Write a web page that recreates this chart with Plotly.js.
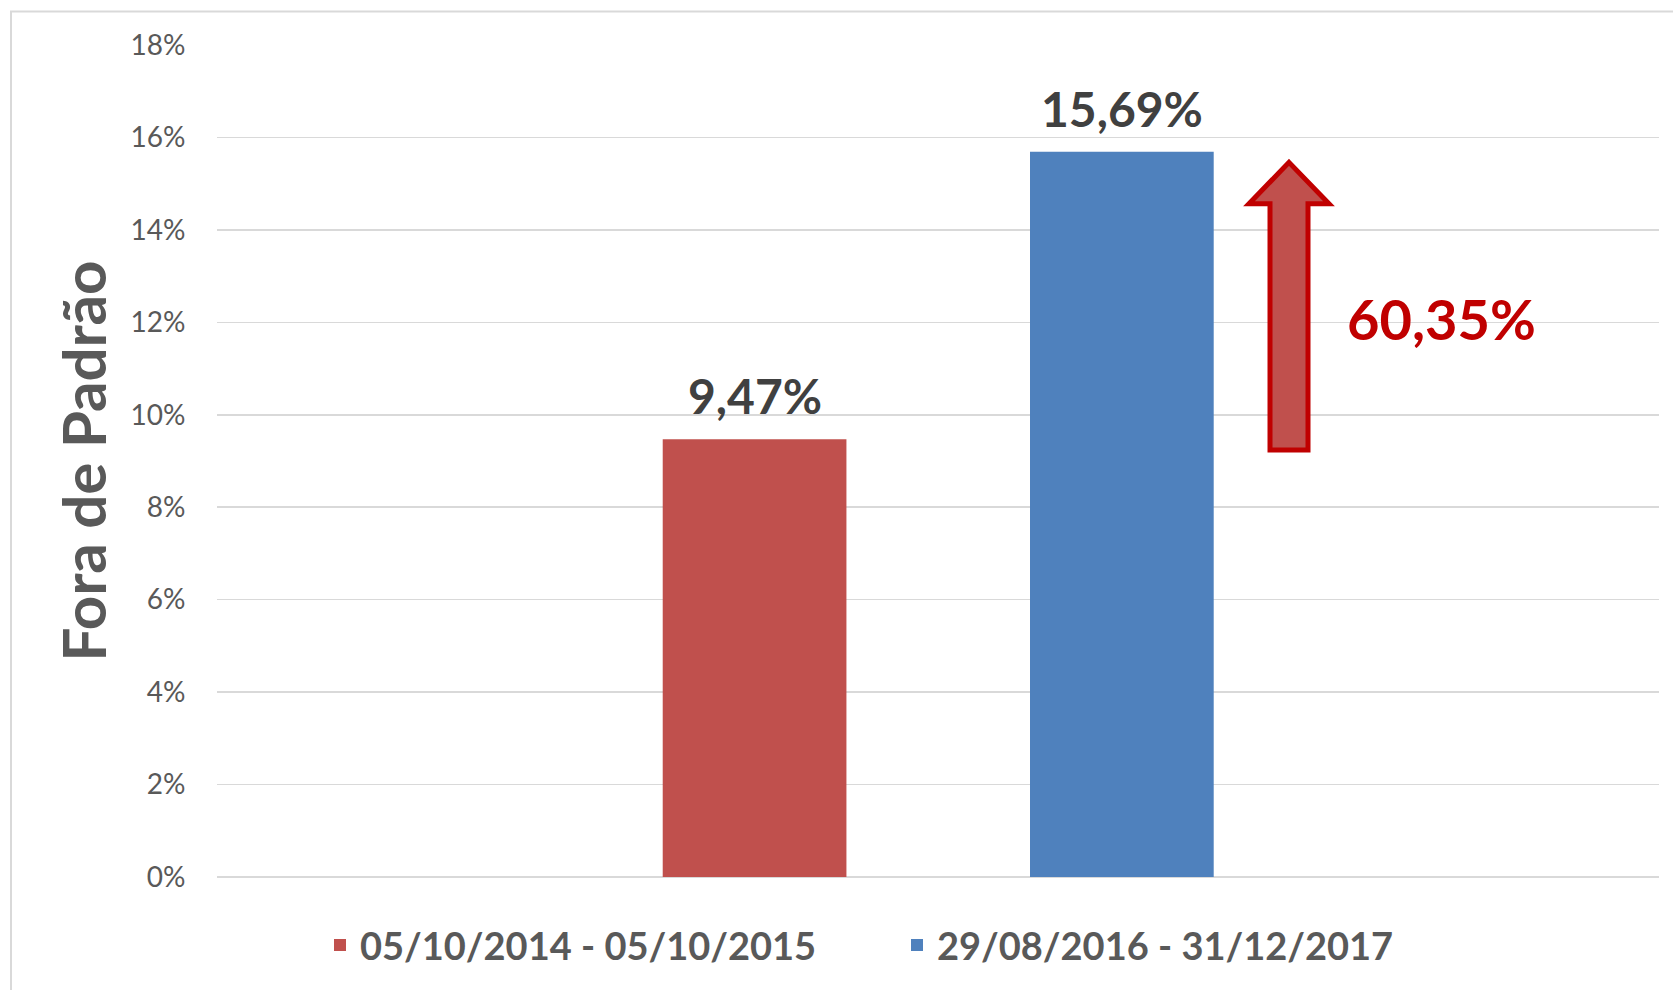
<!DOCTYPE html>
<html>
<head>
<meta charset="utf-8">
<script src="https://cdn.plot.ly/plotly-3.0.1.min.js"></script>
<style>html,body{margin:0;padding:0;background:#fff;}#chart{width:1673px;height:990px;}</style>
</head>
<body>
<div id="chart"></div>
<script>
// Data
const category = [""];
const seriesNames = ["05/10/2014 - 05/10/2015", "29/08/2016 - 31/12/2017"];
const seriesValues = [[9.47], [15.69]];
const seriesColors = ["#C0504D", "#4F81BD"];
const changeLabel = "60,35%";
const yTitle = "Fora de Padrão";

const FONT = "Lato, 'Open Sans', sans-serif";
const barWidth = 0.1274;
const offsets = [-0.1909, 0.0638];

const traces = seriesNames.map((name, i) => ({
  type: "bar",
  name: name,
  x: category,
  y: seriesValues[i],
  width: [barWidth],
  offset: [offsets[i]],
  marker: {color: seriesColors[i]},
  hoverinfo: "skip"
}));

// value labels: positioned from the data values
const fmt = v => v.toFixed(2).replace(".", ",") + "%";
const valueAnnotations = seriesNames.map((name, i) => ({
  xref: "x", yref: "y",
  x: offsets[i] + barWidth / 2,
  y: seriesValues[i][0],
  text: fmt(seriesValues[i][0]),
  showarrow: false,
  xanchor: "center", yanchor: "bottom",
  yshift: 13,
  font: {family: FONT, size: 48, color: "#404040", weight: 700}
}));

// arrow path in paper coordinates
function px(x){ return (x - 217) / 1442; }
function py(y){ return (877.5 - y) / 833; }
const arrowPts = [
  [1289, 162], [1329, 203.5], [1308, 203.5], [1308, 450], [1270, 450], [1270, 203.5], [1249, 203.5]
];
const arrowPath = "M" + arrowPts.map(p => px(p[0]).toFixed(5) + "," + py(p[1]).toFixed(5)).join("L") + "Z";

const layout = {
  width: 1673,
  height: 990,
  margin: {l: 217, r: 14, t: 44.5, b: 112.5},
  paper_bgcolor: "#ffffff",
  plot_bgcolor: "#ffffff",
  separators: ",.",
  barmode: "overlay",
  showlegend: true,
  legend: {
    orientation: "h",
    x: px(320), xanchor: "left",
    y: -0.082, yanchor: "middle",
    entrywidth: 532,
    font: {family: FONT, size: 38, color: "#595959", weight: 700},
    itemclick: false, itemdoubleclick: false,
    traceorder: "normal"
  },
  xaxis: {
    type: "category",
    range: [-0.5, 0.5],
    showticklabels: false,
    showgrid: false,
    zeroline: false,
    showline: false,
    ticks: "",
    fixedrange: true
  },
  yaxis: {
    range: [0, 18],
    dtick: 2,
    tick0: 0,
    ticksuffix: "%",
    showgrid: true,
    gridcolor: "#D9D9D9",
    gridwidth: 1.6,
    zeroline: true,
    zerolinecolor: "#D9D9D9",
    zerolinewidth: 1.6,
    showline: false,
    ticks: "outside",
    ticklen: 25,
    tickcolor: "rgba(0,0,0,0)",
    tickfont: {family: FONT, size: 28, color: "#595959"},
    title: {text: yTitle, standoff: 4, font: {family: FONT, size: 60, color: "#595959", weight: 700}},
    fixedrange: true
  },
  shapes: [
    {type: "rect", xref: "paper", yref: "paper",
     x0: px(11), x1: 1.2, y0: -0.3, y1: py(11),
     line: {color: "#D9D9D9", width: 2}, fillcolor: "rgba(0,0,0,0)", layer: "below"},
    {type: "path", xref: "paper", yref: "paper", path: arrowPath,
     fillcolor: "#C0504D", line: {color: "#C00000", width: 5}}
  ],
  annotations: valueAnnotations.concat([
    {xref: "paper", yref: "paper", x: px(1441.5), y: py(318), text: changeLabel,
     showarrow: false, xanchor: "center", yanchor: "middle",
     font: {family: FONT, size: 56, color: "#C00000", weight: 700}}
  ])
};

Plotly.newPlot("chart", traces, layout, {displayModeBar: false, staticPlot: true});
</script>
</body>
</html>
